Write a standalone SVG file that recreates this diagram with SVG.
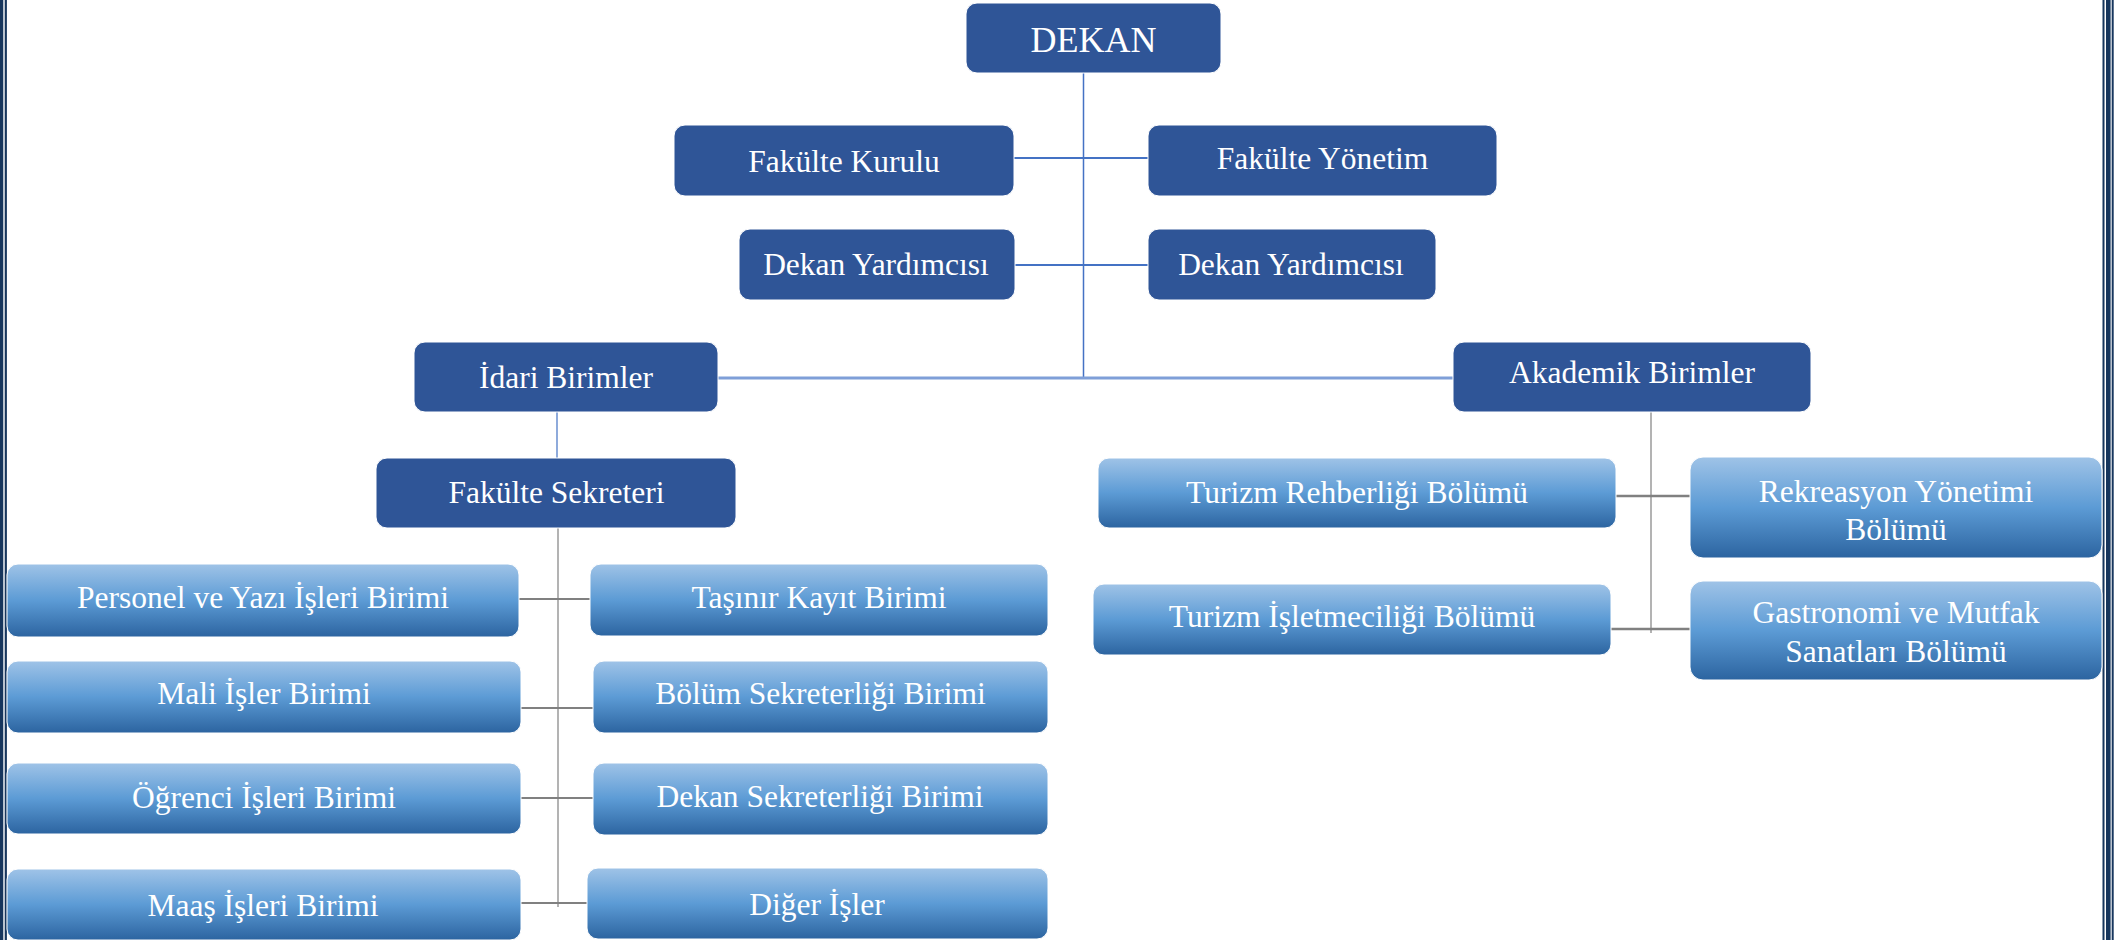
<svg xmlns="http://www.w3.org/2000/svg" width="2127" height="940" viewBox="0 0 2127 940">
<style>
.dark{fill:#2F5597;stroke:#ffffff;stroke-width:1}
.grad{fill:url(#g);stroke:#ffffff;stroke-width:1}
.t{font-family:"Liberation Serif","Times New Roman",serif;font-size:31.5px;fill:#ffffff;text-anchor:middle}
.blue{stroke:#4472C4;fill:none}
.gray{stroke:#808080;fill:none}
.border{stroke:#17365D;fill:none}
</style>
<defs>
<linearGradient id="g" x1="0" y1="0" x2="0" y2="1">
<stop offset="0" stop-color="#9FC3E7"/>
<stop offset="0.5" stop-color="#5C9BD5"/>
<stop offset="1" stop-color="#2C64A0"/>
</linearGradient>
</defs>
<rect width="2127" height="940" fill="#ffffff"/>
<g id="page-border">
<line class="border" x1="1.3" y1="0" x2="1.3" y2="940" stroke-width="4"/>
<line class="border" x1="5.8" y1="0" x2="5.8" y2="940" stroke-width="2.2"/>
<line class="border" x1="2103.5" y1="0" x2="2103.5" y2="940" stroke-width="2"/>
<line class="border" x1="2108.3" y1="0" x2="2108.3" y2="940" stroke-width="4.6"/>
<line class="border" x1="2112.7" y1="0" x2="2112.7" y2="940" stroke-width="2"/>
</g>
<g id="connectors">
<line class="blue" x1="1083.5" y1="72" x2="1083.5" y2="378" stroke-width="1.5"/>
<line class="blue" x1="1014" y1="158" x2="1148" y2="158" stroke-width="2"/>
<line class="blue" x1="1015" y1="265" x2="1148" y2="265" stroke-width="2"/>
<line x1="718" y1="378" x2="1453" y2="378" stroke="#7F9FD8" stroke-width="3"/>
<line class="blue" x1="557" y1="412" x2="557" y2="458" stroke-width="1.2"/>
<line class="gray" x1="558" y1="528" x2="558" y2="907" stroke-width="1.2"/>
<line class="gray" x1="519" y1="599" x2="590" y2="599" stroke-width="2"/>
<line class="gray" x1="521" y1="708" x2="593" y2="708" stroke-width="2"/>
<line class="gray" x1="521" y1="798" x2="593" y2="798" stroke-width="2"/>
<line class="gray" x1="521" y1="903" x2="587" y2="903" stroke-width="2"/>
<line class="gray" x1="1651" y1="412" x2="1651" y2="633" stroke-width="1.2"/>
<line class="gray" x1="1616" y1="496" x2="1690" y2="496" stroke-width="2.5"/>
<line class="gray" x1="1611" y1="629" x2="1690" y2="629" stroke-width="2.5"/>
</g>
<g id="dekan">
<rect class="dark" x="966" y="3" width="255" height="70" rx="11"/>
<text class="t" x="1093.5" y="52" style="font-size:36px">DEKAN</text>
</g>
<g id="fakulte-kurulu">
<rect class="dark" x="674" y="125" width="340" height="71" rx="11"/>
<text class="t" x="844" y="172">Fakülte Kurulu</text>
</g>
<g id="fakulte-yonetim">
<rect class="dark" x="1148" y="125" width="349" height="71" rx="11"/>
<text class="t" x="1322.5" y="169">Fakülte Yönetim</text>
</g>
<g id="dekan-yardimcisi-1">
<rect class="dark" x="739" y="229" width="276" height="71" rx="11"/>
<text class="t" x="876" y="275">Dekan Yardımcısı</text>
</g>
<g id="dekan-yardimcisi-2">
<rect class="dark" x="1148" y="229" width="288" height="71" rx="11"/>
<text class="t" x="1291" y="275">Dekan Yardımcısı</text>
</g>
<g id="idari-birimler">
<rect class="dark" x="414" y="342" width="304" height="70" rx="11"/>
<text class="t" x="566" y="388">İdari Birimler</text>
</g>
<g id="akademik-birimler">
<rect class="dark" x="1453" y="342" width="358" height="70" rx="11"/>
<text class="t" x="1632" y="383">Akademik Birimler</text>
</g>
<g id="fakulte-sekreteri">
<rect class="dark" x="376" y="458" width="360" height="70" rx="11"/>
<text class="t" x="556.5" y="503">Fakülte Sekreteri</text>
</g>
<g id="personel">
<rect class="grad" x="7" y="564" width="512" height="73" rx="11"/>
<text class="t" x="263" y="608">Personel ve Yazı İşleri Birimi</text>
</g>
<g id="mali">
<rect class="grad" x="7" y="661" width="514" height="72" rx="11"/>
<text class="t" x="264" y="704">Mali İşler Birimi</text>
</g>
<g id="ogrenci">
<rect class="grad" x="7" y="763" width="514" height="71" rx="11"/>
<text class="t" x="264" y="808">Öğrenci İşleri Birimi</text>
</g>
<g id="maas">
<rect class="grad" x="7" y="869" width="514" height="71" rx="11"/>
<text class="t" x="263" y="916">Maaş İşleri Birimi</text>
</g>
<g id="tasinir">
<rect class="grad" x="590" y="564" width="458" height="72" rx="11"/>
<text class="t" x="819" y="608">Taşınır Kayıt Birimi</text>
</g>
<g id="bolum-sekreterligi">
<rect class="grad" x="593" y="661" width="455" height="72" rx="11"/>
<text class="t" x="820.5" y="704">Bölüm Sekreterliği Birimi</text>
</g>
<g id="dekan-sekreterligi">
<rect class="grad" x="593" y="763" width="455" height="72" rx="11"/>
<text class="t" x="820" y="807">Dekan Sekreterliği Birimi</text>
</g>
<g id="diger">
<rect class="grad" x="587" y="868" width="461" height="71" rx="11"/>
<text class="t" x="817" y="915">Diğer İşler</text>
</g>
<g id="turizm-rehberligi">
<rect class="grad" x="1098" y="458" width="518" height="70" rx="11"/>
<text class="t" x="1357" y="503">Turizm Rehberliği Bölümü</text>
</g>
<g id="turizm-isletmeciligi">
<rect class="grad" x="1093" y="584" width="518" height="71" rx="11"/>
<text class="t" x="1352" y="627">Turizm İşletmeciliği Bölümü</text>
</g>
<g id="rekreasyon">
<rect class="grad" x="1690" y="457" width="412" height="101" rx="13"/>
<text class="t" x="1896" y="502">Rekreasyon Yönetimi</text>
<text class="t" x="1896" y="540">Bölümü</text>
</g>
<g id="gastronomi">
<rect class="grad" x="1690" y="581" width="412" height="99" rx="13"/>
<text class="t" x="1896" y="623">Gastronomi ve Mutfak</text>
<text class="t" x="1896" y="662">Sanatları Bölümü</text>
</g>
</svg>
